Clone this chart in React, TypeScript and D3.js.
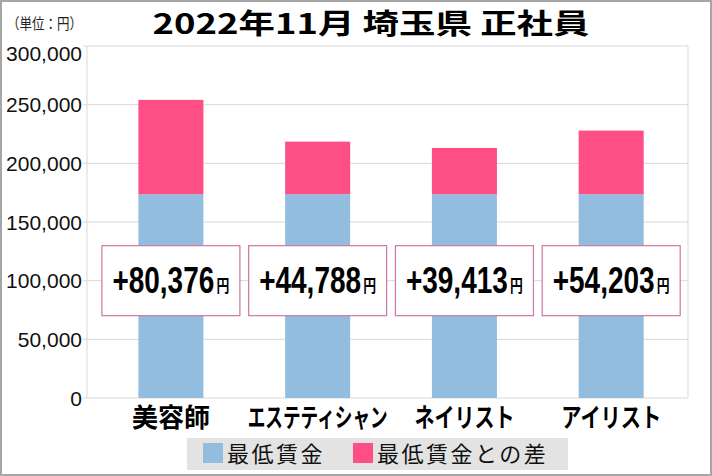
import React, { useLayoutEffect, useRef } from 'react';
import * as d3 from 'd3';

// 職種ごとの最低賃金と、それとの差（円）
const categories = ['美容師', 'エステティシャン', 'ネイリスト', 'アイリスト'];
const minimumWage = [173700, 173700, 173700, 173700];
const difference = [80376, 44788, 39413, 54203];
const yTicks = [0, 50000, 100000, 150000, 200000, 250000, 300000];
const legendLabels = ['最低賃金', '最低賃金との差'];

const title = '2022年11月 埼玉県 正社員';
const unitLabel = '（単位：円）';

const W = 712;
const H = 476;
const margin = { top: 46, right: 24, bottom: 78, left: 87 };

const BLUE = '#92bddf';
const PINK = '#fd4f86';
const GRID = '#d9d9d9';
const CJK = '"Noto Sans CJK JP", "Noto Sans", sans-serif';
const LATIN = '"Liberation Sans", Arial, sans-serif';
const NARROW = '"Liberation Sans Narrow", "Arial Narrow", "Liberation Sans", sans-serif';

// 元の図はプロポーショナル和文フォントなので、カナを詰めた幅を見積もる
const labelWidth = (s: string) =>
  Array.from(s).reduce((w, ch) => {
    if ('ァィゥェォャュョッ'.includes(ch)) return w + 10;
    if (/[\u30a0-\u30ff]/.test(ch)) return w + 20;
    return w + 26.3;
  }, 0);

// 文字を横方向に縮めて目標の幅に合わせる（中央揃え）
function FitText({
  cx,
  y,
  width,
  children,
  ...rest
}: {
  cx: number;
  y: number;
  width: number;
  children: React.ReactNode;
  [k: string]: any;
}) {
  const ref = useRef<SVGTextElement>(null);
  useLayoutEffect(() => {
    const el = ref.current;
    if (!el) return;
    el.removeAttribute('transform');
    const w = el.getBBox().width || width;
    const k = Math.min(1, width / w);
    el.setAttribute('transform', `translate(${cx},${y}) scale(${k},1)`);
  }, [cx, y, width]);
  return (
    <text ref={ref} x={0} y={0} textAnchor="middle" transform={`translate(${cx},${y})`} {...rest}>
      {children}
    </text>
  );
}

export default function App() {
  const plotRight = W - margin.right;
  const plotBottom = H - margin.bottom;

  const x = d3
    .scaleBand<string>()
    .domain(categories)
    .range([margin.left, plotRight])
    .paddingInner(0.557)
    .paddingOuter(0.326)
    .align(0.537);

  const y = d3.scaleLinear().domain([0, 300000]).range([plotBottom, margin.top]);
  const fmt = d3.format(',');

  const boxW = 138;
  const boxH = 70;
  const boxCy = y(100000);

  // 凡例
  const legendX = 187;
  const legendY = 438;
  const legendW = 381;
  const legendH = 32;
  const sw = 20;

  return (
    <svg
      width={W}
      height={H}
      style={{ position: 'absolute', left: 0, top: 0, background: '#fff' }}
    >
      <rect x={1} y={1} width={W - 2} height={H - 2} fill="#fff" stroke="#a6a6a6" strokeWidth={2} />

      {/* タイトル */}
      <text
        x={371}
        y={34}
        textAnchor="middle"
        fontFamily={CJK}
        fontWeight={700}
        fontSize={28}
        textLength={437}
        lengthAdjust="spacingAndGlyphs"
        fill="#000"
      >
        {title}
      </text>
      <text
        x={7}
        y={29}
        fontFamily={CJK}
        fontSize={15}
        textLength={75}
        lengthAdjust="spacingAndGlyphs"
        fill="#222"
      >
        {unitLabel}
      </text>

      {/* グリッド */}
      {yTicks.map((t) => (
        <g key={t}>
          <line x1={margin.left - 4} x2={plotRight} y1={y(t)} y2={y(t)} stroke={GRID} strokeWidth={1} />
          <text
            x={82}
            y={Math.max(y(t), 53)}
            dy="0.36em"
            textAnchor="end"
            fontFamily={LATIN}
            fontSize={21}
            fill="#111"
          >
            {fmt(t)}
          </text>
        </g>
      ))}
      <line x1={margin.left} x2={margin.left} y1={margin.top} y2={plotBottom} stroke={GRID} />
      <line x1={plotRight} x2={plotRight} y1={margin.top} y2={plotBottom} stroke={GRID} />

      {/* 棒 */}
      {categories.map((c, i) => {
        const base = minimumWage[i];
        const top = base + difference[i];
        return (
          <g key={c}>
            <rect x={x(c)} y={y(base)} width={x.bandwidth()} height={y(0) - y(base)} fill={BLUE} />
            <rect x={x(c)} y={y(top)} width={x.bandwidth()} height={y(base) - y(top)} fill={PINK} />
          </g>
        );
      })}

      {/* 差額ラベル */}
      {categories.map((c, i) => {
        const cx = (x(c) as number) + x.bandwidth() / 2;
        return (
          <g key={c}>
            <rect
              x={cx - boxW / 2}
              y={boxCy - boxH / 2}
              width={boxW}
              height={boxH}
              fill="#fff"
              stroke="#cc78a2"
              strokeWidth={1.2}
            />
            <FitText cx={cx} y={boxCy + 12} width={117} fill="#000" fontWeight={700}>
              <tspan fontFamily={NARROW} fontSize={37}>
                {'+' + fmt(difference[i])}
              </tspan>
              <tspan fontFamily={CJK} fontSize={17} dx={3} dy={-1}>
                円
              </tspan>
            </FitText>
          </g>
        );
      })}

      {/* カテゴリ */}
      {categories.map((c) => (
        <FitText
          key={c}
          cx={(x(c) as number) + x.bandwidth() / 2}
          y={427}
          width={labelWidth(c)}
          fontFamily={CJK}
          fontWeight={700}
          fontSize={26}
          fill="#000"
        >
          {c}
        </FitText>
      ))}

      {/* 凡例 */}
      <rect x={legendX} y={legendY} width={legendW} height={legendH} fill="#e3e3e3" />
      {legendLabels.map((label, i) => {
        const sx = i === 0 ? legendX + 16 : legendX + 166;
        return (
          <g key={label}>
            <rect x={sx} y={legendY + 5} width={sw} height={sw} fill={i === 0 ? BLUE : PINK} />
            <text
              x={sx + sw + 4}
              y={legendY + 24}
              fontFamily={CJK}
              fontSize={22}
              letterSpacing={2.5}
              fill="#111"
            >
              {label}
            </text>
          </g>
        );
      })}
    </svg>
  );
}
